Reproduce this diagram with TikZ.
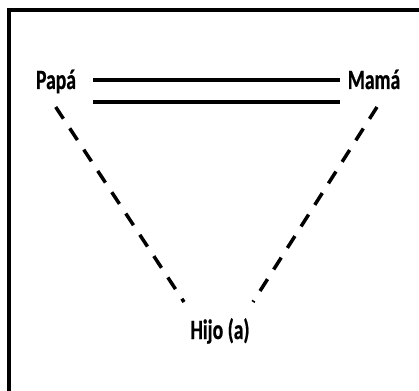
\documentclass[tikz,border=0pt]{standalone}
\usepackage{fontspec}
\newfontfamily\lblfont{Carlito}[FakeStretch=0.7,FakeBold=0.6]
\begin{document}
\begin{tikzpicture}[x=1pt,y=-1pt,
  lbl/.style={font=\lblfont\bfseries\fontsize{28}{32}\selectfont, inner sep=0pt, anchor=base},
  rel/.style={line width=4.5pt},
  dsh/.style={line width=3.5pt, dash pattern=on 14pt off 11.5pt}]
\useasboundingbox (0,0) rectangle (419,390);
\clip (0,0) rectangle (419,390);
\draw[line width=4pt] (8.5,10) rectangle (440,410);
\node[lbl] (papa) at (56,89) {Papá};
\node[lbl] (mama) at (374,89) {Mamá};
\node[lbl] (hijo) at (220,339) {Hijo (a)};
\coordinate (r1a) at (93,80);
\coordinate (r1b) at (340,80);
\coordinate (r2a) at (93,102);
\coordinate (r2b) at (340,102);
\coordinate (la) at (55.7,107);
\coordinate (lb) at (184,302);
\coordinate (ra) at (377,107);
\coordinate (rb) at (253,302);
\draw[rel] (r1a) -- (r1b);
\draw[rel] (r2a) -- (r2b);
\draw[dsh] (la) -- (lb);
\draw[dsh] (ra) -- (rb);
\end{tikzpicture}
\end{document}
